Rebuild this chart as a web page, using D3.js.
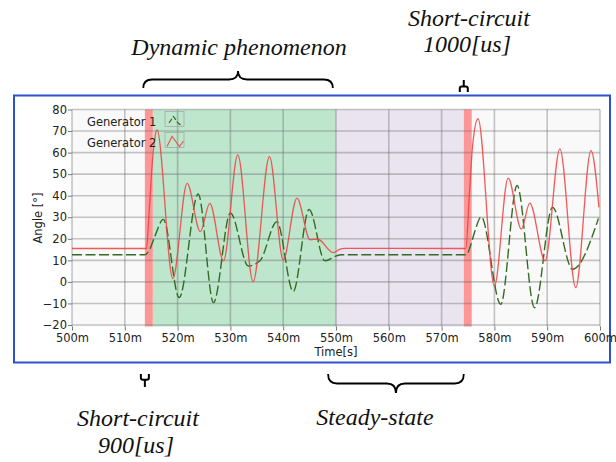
<!DOCTYPE html>
<html>
<head>
<meta charset="utf-8">
<script src="https://cdn.jsdelivr.net/npm/d3@7"></script>
<style>
  html, body { margin: 0; padding: 0; background: #ffffff; }
  svg { display: block; }
</style>
</head>
<body>
<script>
// ---------------- data ----------------
const gen1Time  = [500, 513.8, 514.6, 515.6, 517.3, 520.3, 523.9, 526.8, 530.0, 533.4, 535.6, 538.8, 541.9, 544.9, 547.9, 550.1, 551.0, 574.7, 575.5, 576.3, 577.5, 581.2, 584.3, 587.6, 591.0, 594.8, 599.7];
const gen1Angle = [12.6, 12.6, 14.5, 20.5, 29.0, -7.3, 40.8, -9.6, 32.0, 7.4, 9.8, 27.9, -4.4, 33.6, 9.8, 12.1, 12.6, 12.6, 17.0, 23.5, 30.2, -10.4, 44.7, -12.0, 34.6, 5.9, 29.4];

const gen2Time  = [500, 514.1, 514.6, 515.2, 515.7, 516.1, 519.1, 521.8, 524.3, 526.1, 528.7, 531.4, 534.3, 537.4, 540.0, 542.6, 545.1, 546.5, 549.5, 550.8, 551.6, 574.6, 575.2, 575.9, 576.9, 580.0, 582.6, 585.1, 586.7, 589.6, 592.4, 595.4, 598.3, 599.8];
const gen2Angle = [15.5, 15.5, 32.0, 55.0, 67.0, 70.5, 1.5, 45.7, 23.3, 36.4, 9.8, 58.9, 0.1, 58.1, 10.2, 38.9, 19.5, 19.9, 13.6, 15.2, 15.6, 15.5, 38.0, 64.0, 75.7, -1.9, 48.2, 24.5, 36.6, 9.8, 61.7, -2.6, 60.9, 34.6];

const xTicks = [500, 510, 520, 530, 540, 550, 560, 570, 580, 590, 600];
const xTickLabels = ["500m", "510m", "520m", "530m", "540m", "550m", "560m", "570m", "580m", "590m", "600m"];
const yTicks = [-20, -10, 0, 10, 20, 30, 40, 50, 60, 70, 80];

const faultBands = [[513.8, 515.3], [574.2, 575.7]];
const dynamicBand = [515.3, 550];
const steadyBand = [550, 574.2];

const seriesNames = ["Generator 1", "Generator 2"];

// annotation spans (time, ms)
const dynamicBrace = [513.5, 549.4];
const steadyBrace = [548.5, 574.2];
const faultMarks = [513.8, 574.2];

// ---------------- drawing ----------------
const W = 616, H = 462;
const svg = d3.select("body").append("svg").attr("width", W).attr("height", H);

const x = d3.scaleLinear().domain([500, 600]).range([72, 600]);
const y = d3.scaleLinear().domain([-20, 80]).range([325, 109.5]);
const plotTop = y(80), plotBot = y(-20) + 1.5;

// frame
svg.append("rect").attr("x", 14).attr("y", 95.5).attr("width", 596).attr("height", 267)
  .attr("fill", "#ffffff").attr("stroke", "#2d51d0").attr("stroke-width", 2);

// plot background
svg.append("rect").attr("x", x(500)).attr("y", plotTop).attr("width", x(600) - x(500)).attr("height", plotBot - plotTop)
  .attr("fill", "#f9f9f9");

// region bands
svg.append("rect").attr("x", x(dynamicBand[0])).attr("y", plotTop)
  .attr("width", x(dynamicBand[1]) - x(dynamicBand[0])).attr("height", plotBot - plotTop).attr("fill", "#bde6cd");
svg.append("rect").attr("x", x(steadyBand[0])).attr("y", plotTop)
  .attr("width", x(steadyBand[1]) - x(steadyBand[0])).attr("height", plotBot - plotTop).attr("fill", "#e9e4f0");
svg.selectAll("rect.fault").data(faultBands).enter().append("rect").attr("class", "fault")
  .attr("x", d => x(d[0])).attr("y", plotTop).attr("width", d => x(d[1]) - x(d[0])).attr("height", plotBot - plotTop)
  .attr("fill", "#fd9696");

// grid
const gridColor = "rgba(105,105,105,0.38)";
svg.selectAll("line.vg").data(xTicks).enter().append("line").attr("class", "vg")
  .attr("x1", d => x(d)).attr("x2", d => x(d)).attr("y1", plotTop).attr("y2", plotBot)
  .attr("stroke", gridColor).attr("stroke-width", 1.6);
svg.selectAll("line.hg").data(yTicks).enter().append("line").attr("class", "hg")
  .attr("x1", x(500)).attr("x2", x(600)).attr("y1", d => y(d)).attr("y2", d => y(d))
  .attr("stroke", gridColor).attr("stroke-width", 1.6);

// axes
const font = "'DejaVu Sans', Verdana, sans-serif";
const xAxis = svg.append("g").attr("transform", `translate(0,${plotBot})`)
  .call(d3.axisBottom(x).tickValues(xTicks).tickFormat((d, i) => xTickLabels[i]).tickSize(4).tickPadding(3));
const yAxis = svg.append("g").attr("transform", `translate(${x(500)},0)`)
  .call(d3.axisLeft(y).tickValues(yTicks).tickFormat(d3.format("d")).tickSize(4).tickPadding(1));
[xAxis, yAxis].forEach(g => {
  g.select(".domain").remove();
  g.selectAll(".tick line").attr("stroke", "#777");
  g.selectAll("text").attr("font-family", font).attr("font-size", 11.5).attr("fill", "#222");
});

svg.append("text").attr("x", (x(500) + x(600)) / 2).attr("y", 355.5).attr("text-anchor", "middle")
  .attr("font-family", font).attr("font-size", 11.5).attr("fill", "#222").text("Time[s]");
svg.append("text").attr("transform", `translate(42,${(plotTop + plotBot) / 2}) rotate(-90)`)
  .attr("text-anchor", "middle").attr("font-family", font).attr("font-size", 11.5).attr("fill", "#222").text("Angle [°]");

// series
const clip = svg.append("clipPath").attr("id", "plotclip").append("rect")
  .attr("x", x(500)).attr("y", plotTop - 2).attr("width", x(600) - x(500)).attr("height", plotBot - plotTop + 4);

const line = d3.line().x(d => x(d[0])).y(d => y(d[1])).curve(d3.curveMonotoneX);
const g1 = gen1Time.map((t, i) => [t, gen1Angle[i]]);
const g2 = gen2Time.map((t, i) => [t, gen2Angle[i]]);

const lines = svg.append("g").attr("clip-path", "url(#plotclip)");
lines.append("path").attr("d", line(g1)).attr("fill", "none")
  .attr("stroke", "#336b22").attr("stroke-width", 1.4).attr("stroke-dasharray", "10,3.5");
lines.append("path").attr("d", line(g2)).attr("fill", "none")
  .attr("stroke", "rgba(240,62,62,0.85)").attr("stroke-width", 1.3);

// legend
const legendRows = [
  { name: seriesNames[0], baseline: 126, boxY: 111.5, color: "#336b22", dash: "5,2",
    pts: [[169, 123], [173.5, 116.5], [178, 123], [180, 124.5], [182, 125]] },
  { name: seriesNames[1], baseline: 147, boxY: 132.5, color: "#e85a55", dash: null,
    pts: [[167, 146.5], [172, 136.5], [179.5, 146.5], [183.5, 141]] }
];
legendRows.forEach(r => {
  svg.append("text").attr("x", 87).attr("y", r.baseline).attr("font-family", font).attr("font-size", 11.5)
    .attr("fill", "#222").text(r.name);
  svg.append("rect").attr("x", 165).attr("y", r.boxY).attr("width", 19).attr("height", 15)
    .attr("fill", "none").attr("stroke", "#a8a8a8").attr("stroke-width", 0.8);
  const p = svg.append("path").attr("d", d3.line()(r.pts)).attr("fill", "none")
    .attr("stroke", r.color).attr("stroke-width", 1.2);
  if (r.dash) p.attr("stroke-dasharray", r.dash);
});

// braces
function brace(x1, x2, y0, h, r) {
  // tip at y0 - h (h may be negative for downward tip)
  const xm = (x1 + x2) / 2;
  const ym = y0 - h * 0.5;
  const yt = y0 - h;
  return `M${x1},${y0} Q${x1},${ym} ${x1 + r},${ym} L${xm - r},${ym} Q${xm},${ym} ${xm},${yt} ` +
         `Q${xm},${ym} ${xm + r},${ym} L${x2 - r},${ym} Q${x2},${ym} ${x2},${y0}`;
}
const braceStyle = (p, w) => p.attr("fill", "none").attr("stroke", "#000").attr("stroke-width", w);

braceStyle(svg.append("path").attr("d", brace(x(dynamicBrace[0]), x(dynamicBrace[1]), 88, 17, 9)), 1.8);
braceStyle(svg.append("path").attr("d", brace(x(steadyBrace[0]), x(steadyBrace[1]), 374, -19, 9)), 1.8);

// small fault markers (stem + hook)
function marker(xc, yEnd, yTip) {
  const dir = yTip < yEnd ? -1 : 1;
  const ym = yEnd + (yTip - yEnd) * 0.45;
  const hw = 4;
  return `M${xc},${yTip} L${xc},${ym} M${xc - hw},${yEnd} L${xc - hw},${ym - dir * 2} Q${xc - hw},${ym} ${xc - hw + 2},${ym} ` +
         `L${xc + hw - 2},${ym} Q${xc + hw},${ym} ${xc + hw},${ym - dir * 2} L${xc + hw},${yEnd}`;
}
braceStyle(svg.append("path").attr("d", marker(x(faultMarks[1]), 92, 80)), 2);
braceStyle(svg.append("path").attr("d", marker(x(faultMarks[0]), 374, 387)), 2);

// annotation texts
const serif = "'Liberation Serif', 'Times New Roman', serif";
const annot = [
  { t: "Dynamic phenomenon", x: 239, y: 55 },
  { t: "Short-circuit", x: 469, y: 26 },
  { t: "1000[us]", x: 467, y: 52 },
  { t: "Short-circuit", x: 138, y: 426 },
  { t: "900[us]", x: 136, y: 453 },
  { t: "Steady-state", x: 375, y: 425 }
];
svg.selectAll("text.annot").data(annot).enter().append("text").attr("class", "annot")
  .attr("x", d => d.x).attr("y", d => d.y).attr("text-anchor", "middle")
  .attr("font-family", serif).attr("font-style", "italic").attr("font-size", 24).attr("fill", "#111")
  .text(d => d.t);
</script>
</body>
</html>
